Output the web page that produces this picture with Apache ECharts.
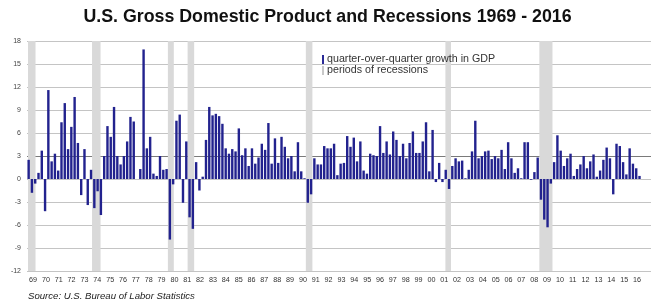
<!DOCTYPE html>
<html>
<head>
<meta charset="utf-8">
<script src="https://cdn.jsdelivr.net/npm/echarts@6/dist/echarts.min.js"></script>
<style>
html,body{margin:0;padding:0;background:#fff;}
#c{width:655px;height:306px;}
</style>
</head>
<body>
<div id="c"></div>
<script>
// Year tick labels (1969 .. 2016)
const yearLabels = ['69','70','71','72','73','74','75','76','77','78','79','80','81','82','83','84','85','86','87','88','89','90','91','92','93','94','95','96','97','98','99','00','01','02','03','04','05','06','07','08','09','10','11','12','13','14','15','16'];

// Quarter-over-quarter GDP growth (%), 1969 Q3 .. 2016 Q1
const gdpGrowth = [
  2.5, -1.8, -0.6, 0.8, 3.7, -4.2, 11.6, 2.3, 3.3, 1.1,
  7.4, 9.9, 3.9, 6.8, 10.7, 4.7, -2.1, 3.9, -3.4, 1.2,
  -3.8, -1.6, -4.7, 3.0, 6.9, 5.5, 9.4, 3.0, 1.9, 3.0,
  4.9, 8.1, 7.5, 0.0, 1.3, 16.9, 4.0, 5.5, 0.7, 0.4,
  3.0, 1.2, 1.3, -7.9, -0.7, 7.6, 8.4, -3.1, 4.9, -5.0,
  -6.5, 2.2, -1.5, 0.3, 5.1, 9.4, 8.3, 8.5, 8.2, 7.2,
  4.0, 3.3, 3.9, 3.6, 6.6, 3.1, 4.0, 1.7, 4.0, 2.0,
  2.8, 4.6, 3.8, 7.3, 2.0, 5.3, 2.1, 5.5, 4.2, 2.7,
  3.0, 1.0, 4.8, 1.0, 0.1, -3.1, -2.0, 2.7, 1.9, 1.9,
  4.3, 4.0, 4.0, 4.6, 0.5, 2.0, 2.1, 5.6, 4.2, 5.4,
  2.3, 4.9, 1.1, 0.7, 3.3, 3.1, 3.0, 6.9, 3.4, 4.9,
  3.2, 6.2, 5.1, 3.0, 4.6, 2.7, 4.7, 6.2, 3.4, 3.4,
  4.9, 7.4, 1.0, 6.4, -0.4, 2.1, -0.4, 1.2, -1.3, 1.7,
  2.7, 2.3, 2.4, 0.1, 1.2, 3.6, 7.6, 2.7, 3.0, 3.6,
  3.7, 2.6, 3.0, 2.7, 3.8, 1.3, 4.8, 2.7, 0.8, 1.4,
  0.1, 4.8, 4.8, -0.1, 0.9, 2.8, -2.7, -5.3, -6.3, -0.6,
  2.2, 5.7, 3.7, 1.7, 2.7, 3.3, 0.4, 1.3, 1.9, 3.0,
  1.4, 2.3, 3.2, 0.3, 1.1, 2.5, 4.1, 2.7, -2.0, 4.6,
  4.3, 2.2, 0.6, 4.0, 2.0, 1.4, 0.4
];

// Recession periods, in quarters counted from 1969 Q3 (start, end)
const recessionStart = [0.3, 19.8, 42.9, 48.9, 84.9, 127.4, 156.0];
const recessionEnd   = [2.6, 22.4, 44.7, 50.9, 86.9, 129.1, 160.0];

// Y-axis ticks
const yMin = -12, yMax = 18, yStep = 3;

// Quarter categories: 1969 Q3 .. 2016 Q4
const quarterCats = [];
for (let y = 1969; y <= 2016; y++) {
  for (let q = 1; q <= 4; q++) {
    if (y === 1969 && q < 3) continue;
    quarterCats.push(y + ' Q' + q);
  }
}

const gridColors = ['#c4c4c4','#c4c4c4','#c4c4c4','#c4c4c4','#c4c4c4','#7a7a7a','#c4c4c4','#c4c4c4','#c4c4c4','#c4c4c4','#c4c4c4'];

const chart = echarts.init(document.getElementById('c'), null, {renderer: 'canvas'});
const FONT = 'Liberation Sans, Arial, sans-serif';

chart.setOption({
  animation: false,
  backgroundColor: '#ffffff',
  title: {
    text: 'U.S. Gross Domestic Product and Recessions 1969 - 2016',
    left: 'center',
    top: 3,
    textStyle: {fontFamily: FONT, fontWeight: 'bold', fontSize: 17.8, color: '#111'}
  },
  legend: {
    left: 322,
    top: 54,
    orient: 'vertical',
    itemWidth: 2,
    itemHeight: 9,
    itemGap: 0,
    padding: 0,
    selectedMode: false,
    textStyle: {fontFamily: FONT, fontSize: 10.7, color: '#333', padding: [0,0,0,-2]},
    data: [
      {name: 'quarter-over-quarter growth in GDP', icon: 'rect', itemStyle: {color: '#2a2a96'}},
      {name: 'periods of recessions', icon: 'rect', itemStyle: {color: '#c8c8c8'}}
    ]
  },
  graphic: [{
    type: 'text', left: 28, top: 291,
    style: {text: 'Source: U.S. Bureau of Labor Statistics', font: 'italic 9.6px Liberation Sans, Arial, sans-serif', fill: '#222'}
  }],
  grid: [
    {left: 27, right: 4, top: 41, bottom: 35},
    {left: 26.6, right: 11.6, top: 41, bottom: 35}
  ],
  xAxis: [
    {type: 'category', gridIndex: 0, data: quarterCats, boundaryGap: true,
     axisLine: {show: false}, axisTick: {show: false}, axisLabel: {show: false}, splitLine: {show: false}},
    {type: 'category', gridIndex: 1, data: yearLabels, boundaryGap: true,
     axisLine: {show: false}, axisTick: {show: false}, splitLine: {show: false},
     axisLabel: {interval: 0, fontFamily: FONT, fontSize: 7.2, color: '#333', margin: 6}},
    {type: 'value', gridIndex: 0, min: 0, max: quarterCats.length, show: false}
  ],
  yAxis: [
    {type: 'value', gridIndex: 0, min: yMin, max: yMax, interval: yStep,
     axisLine: {show: false}, axisTick: {show: false},
     axisLabel: {fontFamily: FONT, fontSize: 7, color: '#444', margin: 6},
     splitLine: {lineStyle: {color: gridColors, width: 1}}},
    {type: 'value', gridIndex: 1, show: false}
  ],
  series: [
    {
      name: 'periods of recessions', type: 'line', xAxisIndex: 2, yAxisIndex: 0,
      data: [], z: -1, silent: true,
      markArea: {
        silent: true,
        itemStyle: {color: '#d9d9d9'},
        data: recessionStart.map((s, i) => [{xAxis: s}, {xAxis: recessionEnd[i]}])
      }
    },
    {
      name: 'quarter-over-quarter growth in GDP', type: 'bar', xAxisIndex: 0, yAxisIndex: 0,
      data: gdpGrowth, barWidth: 2.4, z: 3,
      itemStyle: {color: '#22228e'}
    }
  ]
});
</script>
</body>
</html>
